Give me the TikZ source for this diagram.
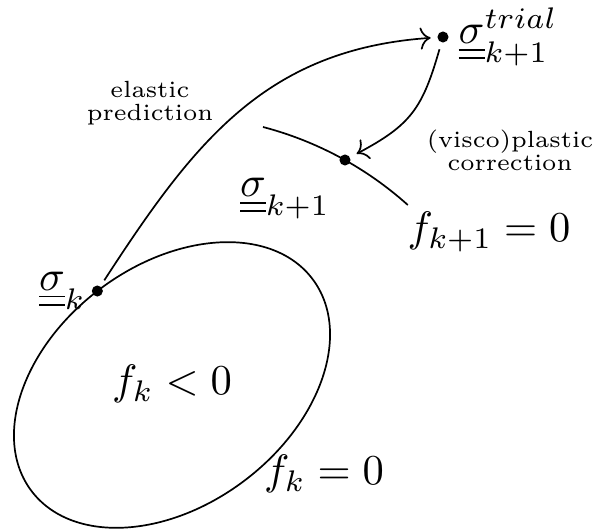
\documentclass[tikz,border=0pt]{standalone}
\usetikzlibrary{positioning,arrows.meta}

\tikzset{
	dot/.style={circle,fill,inner sep=0pt,minimum size=2.6pt},
	note/.style={align=center,font=\fontsize{5.5}{5.4}\selectfont},
}
\newcommand{\tens}[1]{\underline{\underline{#1}}}

\begin{document}
\begin{tikzpicture}[x=0.235pt,y=0.235pt]
		
		\useasboundingbox (0,0) rectangle (598,531);
		
		% yield surface at step k
		\begin{scope}[shift={(172,146)},rotate=37]
			\draw (0,0) ellipse [x radius=176,y radius=120];
			\coordinate (sk) at (91:176 and 120);
		\end{scope}
		
		% yield surface at step k+1
		\draw (263,404)
		arc[start angle=75.3,end angle=48.1,radius=349.7];
		
		\node[dot] (psk) at (sk) {};
		\node[dot] (ptrial) at (443,494) {};
		\node[dot] (pskp1) at (345,371) {};
		
		\draw[->,shorten <=1.5pt,shorten >=1.4pt]
		(psk) to[out=57,in=184,looseness=1.05] (ptrial);
		
		\draw[->,shorten <=1.5pt,shorten >=1.6pt]
		(ptrial) to[out=-106,in=28,looseness=1.2] (pskp1);
		
		\node[left=0pt of psk,inner sep=1pt] (lsk)
		{$\tens{\sigma}_k$};
		
		\node[right=0pt of ptrial,inner sep=2pt] (ltrial)
		{$\tens{\sigma}_{k+1}^{trial}$};
		
		\node (lskp1) at (285,332)
		{$\tens{\sigma}_{k+1}$};
		
		\node (fkp1) at (489,299)
		{$f_{k+1}=0$};
		
		\node (fkin) at (172,147)
		{$f_k<0$};
		
		\node (fk) at (324,57)
		{$f_k=0$};
		
		\node[note] (elastic) at (150,428)
		{elastic\\prediction};
		
		\node[note] (plastic) at (510,381)
		{(visco)plastic\\correction};
		
	\end{tikzpicture}
\end{document}
